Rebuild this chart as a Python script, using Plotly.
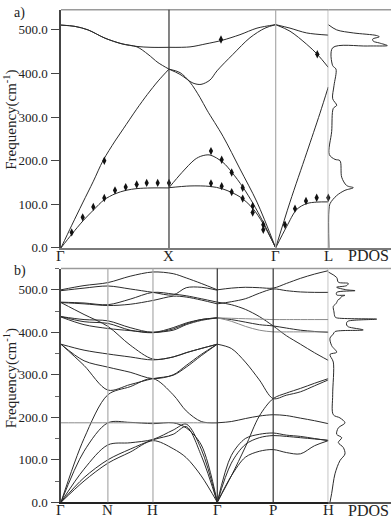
import plotly.graph_objects as go

SERIF = "Liberation Serif"
DARK = "#2b2b2b"
GREY = "#8a8a8a"

# ---------------- panel a : Γ-X-Γ-L ----------------
a_ticks = [0, 108, 214.7, 267.3]
a_ticktext = ["Γ", "X", "Γ", "L"]

# Γ-X
a_la1_k = [0, 10.8, 21.6, 32.4, 42, 54, 62.3, 75.6, 86.4, 97.2, 108]
a_la1_f = [0, 52, 103, 153, 200, 245, 273, 318, 352, 383, 410]
a_ta1_k = [0, 11, 22, 33, 43, 54, 65, 76, 90, 108]
a_ta1_f = [0, 32, 62, 88, 110, 124, 132, 136, 137.5, 137.5]
a_to1_k = [0, 14, 27, 44, 61, 76, 90, 108]
a_to1_f = [511, 508, 500, 481, 468, 462, 460, 460]
a_lo1_k = [0, 14, 27, 44, 61, 76, 87, 97, 108]
a_lo1_f = [511, 508, 500, 481, 468, 461, 444, 425, 410]
# X-Γ
a_to2_k = [108, 129, 145, 161, 179, 196, 214.7]
a_to2_f = [460, 461, 468, 476, 489, 504, 512]
a_lo2_k = [108, 119, 132, 140, 149, 156, 172, 189, 204, 214.7]
a_lo2_f = [410, 398, 378, 375, 385, 406, 444, 482, 504, 512]
a_la2_k = [108, 119, 129, 139, 146, 162, 179, 196, 214.7]
a_la2_f = [410, 402, 380, 345, 316, 256, 181, 105, 0]
a_ta2_k = [108, 121, 134, 141, 149, 162, 171, 182, 192, 202, 214.7]
a_ta2_f = [138, 173, 203, 211, 213, 196, 173, 139, 102, 60, 0]
a_ta3_k = [108, 129, 149, 162, 179, 192, 202, 214.7]
a_ta3_f = [138, 142, 141, 135, 117, 90, 56, 0]
# Γ-L
a_to3_k = [214.7, 229, 245.7, 267.3]
a_to3_f = [512, 504, 493, 488]
a_lo3_k = [214.7, 229, 245.7, 256.3, 267.3]
a_lo3_f = [512, 497, 467, 444, 414]
a_la3_k = [214.7, 229, 245.7, 259, 267.3]
a_la3_f = [0, 105, 218, 309, 369]
a_ta4_k = [214.7, 225.7, 235.7, 245.7, 255.7, 267.3]
a_ta4_f = [0, 49, 88, 101.6, 105, 105.5]

# experimental points
a_exp_k = [10.7, 21.7, 32.3, 43.3, 54, 64.7, 75.7, 85.7, 96.7, 108, 43.3,
           150, 160.7, 170.7, 181.7, 191.7, 202.3,
           150, 160.7, 170.7, 181.7, 191.7, 202.3,
           224, 234, 245, 255.7, 267.3, 160, 256.3]
a_exp_f = [35.5, 70, 94, 114.5, 132, 139.4, 145.5, 149, 149, 149, 199.7,
           222, 202, 173, 138, 96, 53,
           148, 141.6, 128, 113, 81, 41.5,
           53, 90, 107.7, 115, 115, 478, 444]

# PDOS a
a_dos_f = [0, 87, 102, 120, 132, 138, 143, 162, 200, 203, 214, 267, 320, 327, 342,
           372, 410, 418, 459, 463, 464, 470, 474, 479, 484, 487, 493, 500, 512]
a_dos_v = [0.01, 0.01, 0.03, 0.134, 0.266, 0.399, 0.293, 0.214, 0.186, 0.107, 0.016,
           0.054, 0.08, 0.134, 0.07, 0.091, 0.123, 0.07, 0.07, 0.622, 0.941, 0.813,
           0.718, 0.708, 0.813, 0.772, 0.399, 0.134, 0.0]

# ---------------- panel b : Γ-N-H-Γ-P-H ----------------
b_ticks = [0, 46.8, 91.8, 156, 211.8, 266.8]
b_ticktext = ["Γ", "N", "H", "Γ", "P", "H"]

b_kl = [0, 23, 46.8, 69, 91.8, 112, 125, 140, 156]
bl1 = [0, 50, 92, 118, 145, 126, 105, 62, 0]
bl2 = [0, 58, 100, 125, 147, 160, 178, 110, 0]
bl3 = [0, 78, 135, 140, 148, 170, 184, 125, 0]
bl4 = [0, 120, 187, 188, 185, 187, 175, 135, 0]
bl5 = [187, 187, 187, 187, 187, 187, 187, 187, 187]
bl6 = [0, 150, 253, 272, 291, 253, 215, 190, 187]
bl7 = [372, 322, 264, 277, 291, 299, 318, 345, 372]
bl8 = [372, 333, 318, 306, 291, 300, 322, 348, 372]
bl9 = [372, 358, 349, 342, 335, 342, 352, 362, 372]
bl10 = [470, 442, 414, 370, 337, 342, 352, 362, 372]
bl11 = [437, 430, 427, 411, 400, 411, 422, 430, 434]
bl12 = [437, 425, 421, 405, 399, 408, 420, 430, 434]
bl13 = [436, 418, 409, 404, 400, 405, 418, 428, 434]
bl14 = [471, 469, 465, 478, 494, 490, 486, 479, 471]
bl15 = [470, 467, 463, 466, 475, 485, 483, 476, 467]
bl16 = [498, 504, 509, 502, 494, 488, 505, 506, 499]
bl17 = [500, 510, 517, 532, 542, 538, 528, 515, 500]

b_kr = [156, 170, 184, 198, 211.8, 225, 239, 253, 266.8]
br1 = [0, 62, 106, 120, 124, 117, 114, 133, 145]
br2 = [0, 92, 136, 152, 157, 155, 152, 149, 146]
br3 = [0, 110, 150, 160, 163, 158, 155, 150, 145]
br4 = [0, 62, 130, 203, 244, 257, 268, 280, 291]
br5 = [372, 362, 330, 288, 244, 252, 260, 274, 288]
br6 = [187, 190, 197, 203, 206, 204, 198, 192, 185]
br7 = [434, 430, 424, 418, 415, 410, 405, 402, 400]
br8 = [471, 465, 454, 437, 415, 392, 372, 352, 334]
br9 = [467, 472, 479, 492, 502, 498, 495, 494, 494]
br10 = [500, 504, 506, 505, 504, 515, 527, 537, 545]
br11 = [434, 433, 432, 431, 430, 430, 430, 430, 430]
br12 = [434, 426, 414, 405, 401, 401, 401, 401, 401]

# PDOS b
b_dos_f = [0, 21, 67, 98, 113.6, 129, 140.6, 152, 160, 175, 187, 198.6, 206, 253, 330,
           348, 353, 368.6, 386, 396, 401.7, 405.6, 413, 417, 423, 426.5, 431, 434,
           436.5, 448, 461, 467.5, 477, 479, 484.5, 487, 488, 494, 498, 500, 506,
           510, 515, 518, 529, 542]
b_dos_v = [0.027, 0.054, 0.107, 0.186, 0.266, 0.239, 0.16, 0.214, 0.134, 0.16, 0.266,
           0.186, 0.08, 0.07, 0.08, 0.027, 0.134, 0.054, 0.027, 0.08, 0.107, 0.557,
           0.319, 0.293, 0.293, 0.319, 0.772, 0.134, 0.107, 0.091, 0.08, 0.123, 0.16,
           0.186, 0.214, 0.266, 0.134, 0.134, 0.427, 0.293, 0.134, 0.293, 0.319,
           0.16, 0.134, 0.0]

fig = go.Figure()


def add_line(k, f, xa, ya, color=DARK, width=1.0):
    fig.add_trace(go.Scatter(x=k, y=f, mode="lines", xaxis=xa, yaxis=ya,
                             line=dict(color=color, width=width, shape="spline", smoothing=0.9),
                             hoverinfo="skip", showlegend=False))


a_branches = [(a_la1_k, a_la1_f), (a_ta1_k, a_ta1_f), (a_to1_k, a_to1_f), (a_lo1_k, a_lo1_f),
              (a_to2_k, a_to2_f), (a_lo2_k, a_lo2_f), (a_la2_k, a_la2_f), (a_ta2_k, a_ta2_f),
              (a_ta3_k, a_ta3_f), (a_to3_k, a_to3_f), (a_lo3_k, a_lo3_f), (a_la3_k, a_la3_f),
              (a_ta4_k, a_ta4_f)]
for k, f in a_branches:
    add_line(k, f, "x", "y")

fig.add_trace(go.Scatter(x=a_exp_k, y=a_exp_f, mode="markers", xaxis="x", yaxis="y",
                         marker=dict(symbol="diamond-tall", size=6, color="#111"),
                         cliponaxis=False, hoverinfo="skip", showlegend=False))
add_line(a_dos_v, a_dos_f, "x2", "y2", width=1.0)

for f in [bl1, bl2, bl3, bl4, bl6, bl7, bl8, bl9, bl10, bl11, bl12, bl13, bl14, bl15, bl16, bl17]:
    add_line(b_kl, f, "x3", "y3")
add_line(b_kl, bl5, "x3", "y3", color=GREY)
for f in [br1, br2, br3, br4, br5, br6, br7, br8, br9, br10]:
    add_line(b_kr, f, "x3", "y3")
for f in [br11, br12]:
    add_line(b_kr, f, "x3", "y3", color=GREY)
add_line(b_dos_v, b_dos_f, "x4", "y4", width=1.0)

X_DOM = [0.156, 0.8396]
P_DOM = [0.8396, 1.0]
YA_DOM = [0.5233, 0.9811]
YB_DOM = [0.0341, 0.4835]

yfont = dict(family=SERIF, size=13, color="#222")


def xmain(rng, anchor, color):
    return dict(domain=X_DOM, range=rng, anchor=anchor, showticklabels=False,
                showline=True, linecolor=color, linewidth=2, ticks="", showgrid=False,
                zeroline=False)


def xdos(anchor, color):
    return dict(domain=P_DOM, range=[0, 1], anchor=anchor, showticklabels=False,
                showline=True, linecolor=color, linewidth=2, ticks="", showgrid=False,
                zeroline=False)


def ymain(dom, rng, anchor, minor):
    d = dict(domain=dom, range=rng, anchor=anchor, tickvals=[0, 100, 200, 300, 400, 500],
             tickformat=".1f", ticks="outside", ticklen=8, tickcolor="#444", showline=True,
             linecolor="#444", linewidth=1.5, showgrid=False, zeroline=False, tickfont=yfont,
             ticklabelstandoff=1)
    if minor:
        d["minor"] = dict(ticks="outside", ticklen=4, dtick=50, tickcolor="#666")
    return d


fig.update_layout(
    width=391, height=528, autosize=False,
    margin=dict(l=0, r=0, t=0, b=0),
    paper_bgcolor="white", plot_bgcolor="white",
    xaxis=xmain([0, 267.3], "y", "#7a7a7a"),
    yaxis=ymain(YA_DOM, [0, 546], "x", False),
    xaxis2=xdos("y2", "#7a7a7a"),
    yaxis2=dict(domain=YA_DOM, range=[0, 546], anchor="x2", showticklabels=False,
                showgrid=False, zeroline=False, showline=False),
    xaxis3=xmain([0, 266.8], "y3", "#222"),
    yaxis3=ymain(YB_DOM, [0, 550], "x3", True),
    xaxis4=xdos("y4", "#555"),
    yaxis4=dict(domain=YB_DOM, range=[0, 550], anchor="x4", showticklabels=False,
                showgrid=False, zeroline=False, showline=False),
)

# frame: top borders and symmetry-point verticals
for xr, yr in [("x", "y"), ("x2", "y2"), ("x3", "y3"), ("x4", "y4")]:
    fig.add_shape(type="line", xref=xr + " domain", yref=yr + " domain", x0=0, x1=1, y0=1, y1=1,
                  line=dict(color="#9a9a9a", width=1.5))

a_vcolors = ["#333", "#aaa", "#999"]
for xv, c in zip(a_ticks[1:], a_vcolors):
    fig.add_shape(type="line", xref="x", yref="y domain", x0=xv, x1=xv, y0=0, y1=1,
                  line=dict(color=c, width=1.2))
b_vcolors = ["#aaa", "#aaa", "#333", "#333", "#999"]
for xv, c in zip(b_ticks[1:], b_vcolors):
    fig.add_shape(type="line", xref="x3", yref="y3 domain", x0=xv, x1=xv, y0=0, y1=1,
                  line=dict(color=c, width=1.2))

# k-point labels under each panel
lab_font = dict(family=SERIF, size=15, color="#222")
for xv, t in zip(a_ticks, a_ticktext):
    fig.add_annotation(text=t, xref="x", yref="paper", x=xv, y=0.508, xanchor="center",
                       yanchor="middle", showarrow=False, font=lab_font)
for xv, t in zip(b_ticks, b_ticktext):
    fig.add_annotation(text=t, xref="x3", yref="paper", x=xv, y=0.019, xanchor="center",
                       yanchor="middle", showarrow=False, font=lab_font)
for yv in [0.508, 0.019]:
    fig.add_annotation(text="PDOS", xref="paper", yref="paper", x=0.943, y=yv, xanchor="center",
                       yanchor="middle", showarrow=False,
                       font=dict(family=SERIF, size=16, color="#222"))

ann_font = dict(family=SERIF, size=15, color="#222")
for yv in [0.77, 0.2727]:
    fig.add_annotation(text="Frequency(cm<sup>-1</sup>)", textangle=-90, xref="paper", yref="paper",
                       x=0.026, y=yv, xanchor="center", yanchor="middle", showarrow=False,
                       font=ann_font)
fig.add_annotation(text="a)", xref="paper", yref="paper", x=0.03, y=0.995, xanchor="left",
                   yanchor="top", showarrow=False, font=dict(family=SERIF, size=14, color="#222"))
fig.add_annotation(text="b)", xref="paper", yref="paper", x=0.03, y=0.498, xanchor="left",
                   yanchor="top", showarrow=False, font=dict(family=SERIF, size=14, color="#222"))

# page body has a default margin; drop it so the figure fills the window
fig.write_html("out.html", config={"displayModeBar": False},
               post_script="document.body.style.margin = '0';")
